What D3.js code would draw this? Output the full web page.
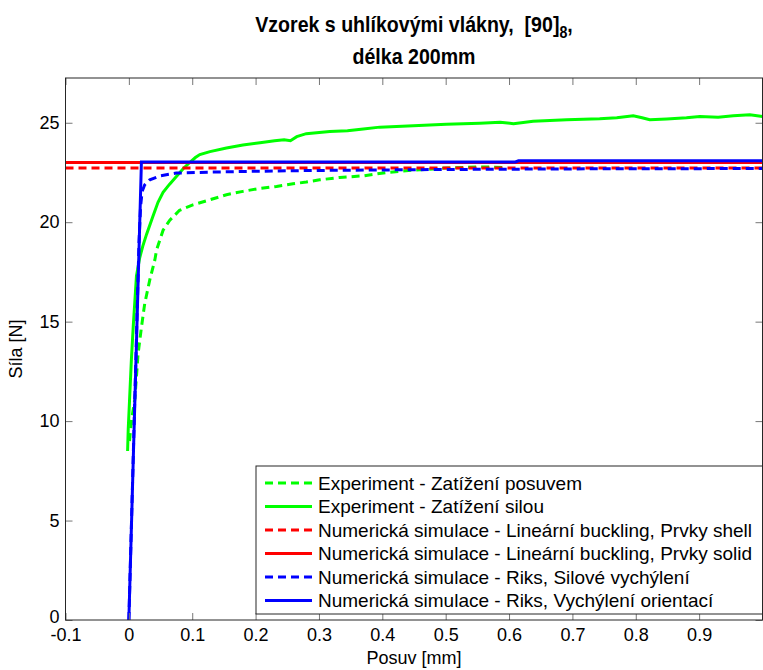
<!DOCTYPE html>
<html>
<head>
<meta charset="utf-8">
<script src="https://cdn.jsdelivr.net/npm/d3@7"></script>
<style>
  html, body { margin: 0; padding: 0; background: #fff; }
  svg { display: block; }
  text { font-family: "Liberation Sans", Arial, sans-serif; fill: #000; }
</style>
</head>
<body>
<svg id="chart" width="763" height="670"></svg>
<script>
const svg = d3.select("#chart");

const W = 763, H = 670;
const plotLeft = 65.5, plotRight = 762.5, plotTop = 78, plotBottom = 620;

// tick values
const xTicks = [-0.1, 0, 0.1, 0.2, 0.3, 0.4, 0.5, 0.6, 0.7, 0.8, 0.9];
const yTicks = [0, 5, 10, 15, 20, 25];

// Experiment - Zatizeni posuvem (green dashed)
const expPosuv = [
    [0.001, 9.0], [0.004, 10.0], [0.0094, 11.1], [0.0146, 13.4], [0.020, 14.75],
    [0.025, 15.9], [0.033, 17.1], [0.041, 18.1], [0.0437, 18.6], [0.054, 19.6],
    [0.0646, 20.1], [0.08, 20.6], [0.101, 20.87], [0.128, 21.13], [0.154, 21.38],
    [0.18, 21.55], [0.207, 21.7], [0.233, 21.8], [0.259, 21.93], [0.28, 22.02],
    [0.301, 22.13], [0.333, 22.25], [0.37, 22.33], [0.407, 22.5], [0.449, 22.62],
    [0.501, 22.72], [0.554, 22.78], [0.596, 22.75]
];

// Experiment - Zatizeni silou (green solid)
const expSila = [
    [-0.002, 8.5], [-0.001, 9.6], [0.001, 11.0], [0.003, 12.4], [0.004, 13.1],
    [0.007, 14.8], [0.010, 16.3], [0.012, 17.3], [0.017, 18.2], [0.022, 18.8],
    [0.028, 19.4], [0.038, 20.3], [0.046, 21.0], [0.054, 21.5], [0.064, 21.9],
    [0.075, 22.3], [0.086, 22.7], [0.096, 23.0], [0.105, 23.25], [0.112, 23.4],
    [0.128, 23.55], [0.154, 23.73], [0.18, 23.88], [0.207, 24.0], [0.23, 24.1],
    [0.245, 24.15], [0.255, 24.1], [0.265, 24.3], [0.28, 24.45], [0.317, 24.56],
    [0.345, 24.6], [0.37, 24.68], [0.396, 24.78], [0.449, 24.85], [0.501, 24.93],
    [0.554, 24.98], [0.586, 25.03], [0.607, 24.95], [0.638, 25.07], [0.691, 25.15],
    [0.743, 25.2], [0.77, 25.25], [0.796, 25.35], [0.81, 25.25], [0.822, 25.15],
    [0.849, 25.19], [0.88, 25.25], [0.901, 25.32], [0.93, 25.28], [0.954, 25.35],
    [0.98, 25.4], [1.0, 25.32]
];

// Linearni buckling
const bucklingShell = [[-0.1, 22.72], [1.0, 22.72]];
const bucklingSolid = [[-0.1, 23.0], [1.0, 23.0]];

// Riks
const riksSila = [
    [0, 0], [0.016, 19.0], [0.0185, 20.8], [0.021, 21.55], [0.025, 21.88],
    [0.033, 22.13], [0.049, 22.33], [0.075, 22.47], [0.128, 22.52], [0.2, 22.56],
    [0.286, 22.6], [0.5, 22.65], [0.7, 22.68], [1.0, 22.7]
];
const riksOrientace = [
    [0, 0], [0.0198, 23.03], [0.61, 23.03], [0.615, 23.09], [1.0, 23.09]
];

const seriesNames = [
    "Experiment - Zatížení posuvem",
    "Experiment - Zatížení silou",
    "Numerická simulace - Lineární buckling, Prvky shell",
    "Numerická simulace - Lineární buckling, Prvky solid",
    "Numerická simulace - Riks, Silové vychýlení",
    "Numerická simulace - Riks, Vychýlení orientací"
];
const seriesData = [expPosuv, expSila, bucklingShell, bucklingSolid, riksSila, riksOrientace];
const seriesColors = ["#00ff00", "#00ff00", "#ff0000", "#ff0000", "#0000ff", "#0000ff"];
const seriesDashed = [true, false, true, false, true, false];

const LINE_WIDTH = 3;
const DASH = "8,5";
const TICK_LEN = 7;
const FONT_SIZE = 18;

const x = d3.scaleLinear().domain([-0.1, 1.0]).range([plotLeft, plotRight]);
const y = d3.scaleLinear().domain([0, 27.25]).range([plotBottom, plotTop]);

svg.append("rect").attr("width", W).attr("height", H).attr("fill", "#fff");

const defs = svg.append("defs");
defs.append("clipPath").attr("id", "plot-clip")
    .append("rect")
    .attr("x", plotLeft).attr("y", plotTop)
    .attr("width", plotRight - plotLeft).attr("height", plotBottom - plotTop);

// curves
const line = d3.line().x(d => x(d[0])).y(d => y(d[1]));
const curves = svg.append("g").attr("clip-path", "url(#plot-clip)");
seriesData.forEach((data, i) => {
    curves.append("path")
        .datum(data)
        .attr("d", line)
        .attr("fill", "none")
        .attr("stroke", seriesColors[i])
        .attr("stroke-width", LINE_WIDTH)
        .attr("stroke-dasharray", seriesDashed[i] ? DASH : null);
});

// axes, box and inward ticks
const axisColor = "#262626";
const xAxis = d3.axisBottom(x).tickValues(xTicks).tickSize(-TICK_LEN).tickPadding(8)
    .tickFormat(d => String(+d.toFixed(1)));
const yAxis = d3.axisLeft(y).tickValues(yTicks).tickSize(-TICK_LEN).tickPadding(6)
    .tickFormat(d => String(d));

svg.append("g").attr("transform", `translate(0,${plotBottom})`).call(xAxis);
const gy = svg.append("g").attr("transform", `translate(${plotLeft},0)`).call(yAxis);
svg.append("g").attr("transform", `translate(0,${plotTop})`)
    .call(d3.axisTop(x).tickValues(xTicks).tickSize(-TICK_LEN).tickFormat(""));
svg.append("g").attr("transform", `translate(${plotRight},0)`)
    .call(d3.axisRight(y).tickValues(yTicks).tickSize(-TICK_LEN).tickFormat(""));

svg.selectAll(".domain").remove();
svg.selectAll(".tick line").attr("stroke", "#777").attr("stroke-width", 1);
svg.selectAll(".tick text")
    .style("font-family", "'Liberation Sans', Arial, sans-serif")
    .style("font-size", FONT_SIZE + "px")
    .attr("fill", "#000");
// the "0" label sits slightly above the corner, as in the original
gy.selectAll(".tick text").filter(d => d === 0).attr("dy", "0.12em");

svg.append("rect")
    .attr("x", plotLeft).attr("y", plotTop)
    .attr("width", plotRight - plotLeft).attr("height", plotBottom - plotTop)
    .attr("fill", "none").attr("stroke", axisColor).attr("stroke-width", 1);

// title (condensed bold)
const cx = (plotLeft + plotRight) / 2;
const NARROW = 0.89;
const t1 = svg.append("text")
    .attr("transform", `translate(${cx},32) scale(${NARROW},1)`)
    .attr("text-anchor", "middle")
    .attr("xml:space", "preserve")
    .style("white-space", "pre")
    .style("font-weight", "bold")
    .style("font-size", "22px");
t1.append("tspan").text("Vzorek s uhlíkovými vlákny,  [90]");
t1.append("tspan").attr("dy", 6).style("font-size", "16px").text("8");
t1.append("tspan").attr("dy", -6).text(",");

svg.append("text")
    .attr("transform", `translate(${cx},64) scale(${NARROW},1)`)
    .attr("text-anchor", "middle")
    .style("font-weight", "bold")
    .style("font-size", "22px")
    .text("délka 200mm");

// axis labels
svg.append("text")
    .attr("x", cx).attr("y", 664)
    .attr("text-anchor", "middle")
    .style("font-size", FONT_SIZE + "px")
    .text("Posuv [mm]");

svg.append("text")
    .attr("transform", `translate(22,${(plotTop + plotBottom) / 2}) rotate(-90)`)
    .attr("text-anchor", "middle")
    .style("font-size", FONT_SIZE + "px")
    .text("Síla [N]");

// legend
const legendX = 256, legendY = 466, legendW = plotRight - 256, legendH = 148;
const legendRowH = 23.5;
const legend = svg.append("g").attr("transform", `translate(${legendX},${legendY})`);
legend.append("rect")
    .attr("width", legendW).attr("height", legendH)
    .attr("fill", "#fff").attr("stroke", axisColor).attr("stroke-width", 1);

seriesNames.forEach((name, i) => {
    const ry = 17 + i * legendRowH;
    legend.append("line")
        .attr("x1", 9).attr("x2", 56)
        .attr("y1", ry).attr("y2", ry)
        .attr("stroke", seriesColors[i])
        .attr("stroke-width", LINE_WIDTH)
        .attr("stroke-dasharray", seriesDashed[i] ? DASH : null);
    legend.append("text")
        .attr("x", 62).attr("y", ry + 6.5)
        .style("font-size", "19px")
        .text(name);
});
</script>
</body>
</html>
